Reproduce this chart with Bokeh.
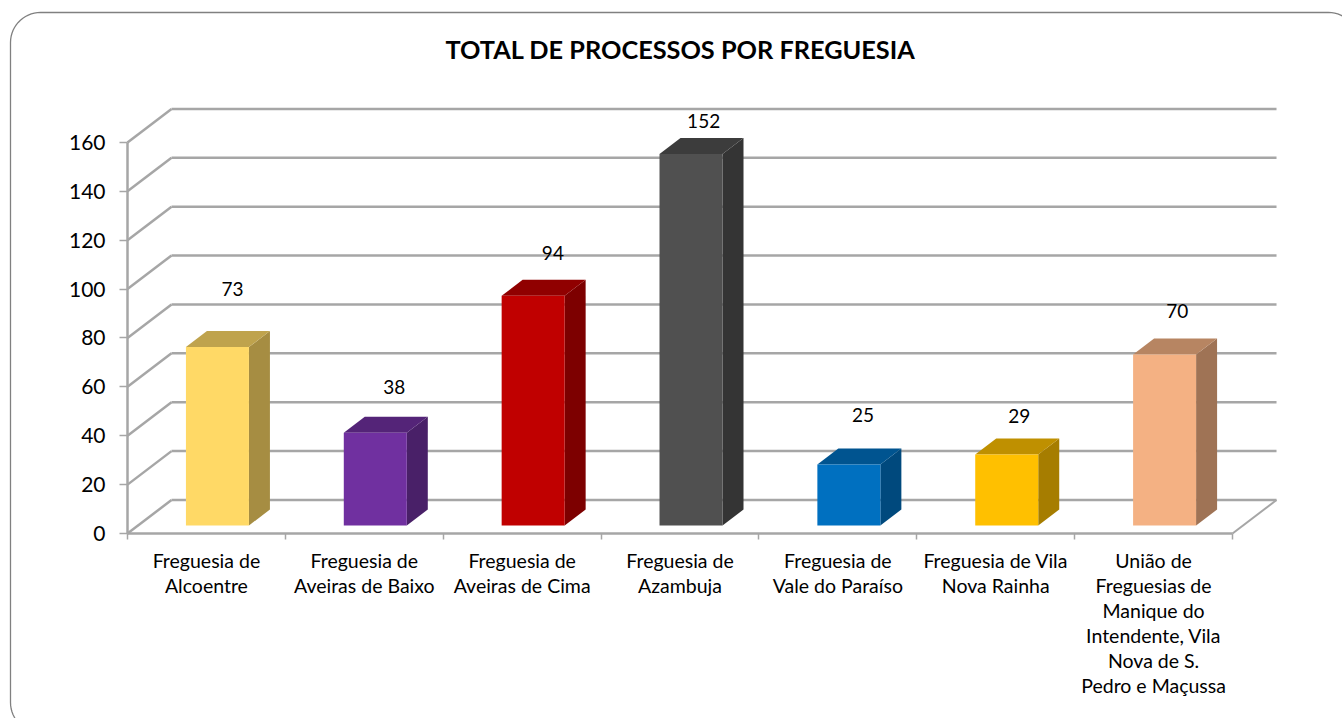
import numpy as np
from bokeh.plotting import figure
from bokeh.models import ColumnDataSource, FixedTicker, Label
from bokeh.core.properties import value
from bokeh.embed import file_html
from bokeh.resources import INLINE

FONT = "Lato"
title_text = "TOTAL DE PROCESSOS POR FREGUESIA"
categories = [
    "Freguesia de\nAlcoentre",
    "Freguesia de\nAveiras de Baixo",
    "Freguesia de\nAveiras de Cima",
    "Freguesia de\nAzambuja",
    "Freguesia de\nVale do Paraíso",
    "Freguesia de Vila\nNova Rainha",
    "União de\nFreguesias de\nManique do\nIntendente, Vila\nNova de S.\nPedro e Maçussa",
]
totals = [73, 38, 94, 152, 25, 29, 70]
y_ticks = [0, 20, 40, 60, 80, 100, 120, 140, 160]
front_colors = ["#FFD966", "#7030A0", "#C00000", "#505050", "#0070C0", "#FFC000", "#F4B183"]
top_colors = ["#BFA34D", "#542478", "#900000", "#3C3C3C", "#005490", "#BF9000", "#B78562"]
side_colors = ["#A68D42", "#492068", "#7D0000", "#343434", "#00497D", "#A67D00", "#9F7355"]
# hand-placed label heights, in value units
label_heights = [100.2, 59.9, 114.7, 168.6, 48.4, 48.0, 91.0]
label_shift = [0.095, 0.12, 0.125, 0.08, 0.09, 0.08, 0.08]

# pixel geometry of the chart box
PX_X = 157.86
PX_Y = 2.444
W, H = 1342, 718
ORIGIN_X, ORIGIN_Y = 127, 533

def dx(px):
    return (px - ORIGIN_X) / PX_X

def dy(px):
    return (ORIGIN_Y - px) / PX_Y

wall_dx, wall_dy = 44 / PX_X, 33.5 / PX_Y
base_dx, base_dy = 11 / PX_X, 8 / PX_Y
depth_dx, depth_dy = 21 / PX_X, 16 / PX_Y
half_w = 31.5 / PX_X

p = figure(
    width=W, height=H, output_backend="svg", toolbar_location=None,
    x_range=(dx(0), dx(W)), y_range=(dy(H), dy(0)),
    min_border_left=0, min_border_bottom=0, min_border_top=0, min_border_right=0,
    outline_line_color=None, background_fill_color="white", border_fill_color="white",
)
p.xgrid.visible = False
p.ygrid.visible = False

# rounded outer frame, running off the right and bottom of the page
L, R, T, B, RAD = 10, 1358, 12, 732, 30
t = np.linspace(0, np.pi / 2, 16)
frame_x = np.concatenate([R - RAD + RAD * np.sin(t), R - RAD + RAD * np.cos(t), L + RAD - RAD * np.sin(t),
                          L + RAD - RAD * np.cos(t), [R - RAD]])
frame_y = np.concatenate([T + RAD - RAD * np.cos(t), B - RAD + RAD * np.sin(t), B - RAD + RAD * np.cos(t),
                          T + RAD - RAD * np.sin(t), [T]])
p.line(x=dx(frame_x), y=dy(frame_y), line_color="#808080", line_width=1.3)

p.add_layout(Label(x=dx(680), y=dy(48), text=title_text, text_align="center",
                   text_baseline="middle", text_font=FONT, text_font_size="25.3px", text_font_style="bold",
                   text_color="black"))

GRID = "#A6A6A6"
n = len(categories)
p.segment(x0=[wall_dx] * len(y_ticks), x1=[n + wall_dx] * len(y_ticks),
          y0=[v + wall_dy for v in y_ticks], y1=[v + wall_dy for v in y_ticks],
          line_color=GRID, line_width=2.5)
p.segment(x0=[0] * len(y_ticks), x1=[wall_dx] * len(y_ticks),
          y0=y_ticks, y1=[v + wall_dy for v in y_ticks], line_color=GRID, line_width=2.5)
p.segment(x0=[n], x1=[n + wall_dx], y0=[0], y1=[wall_dy], line_color=GRID, line_width=2)

centers = [i + 0.5 + base_dx for i in range(n)]
x0 = [c - half_w for c in centers]
x1 = [c + half_w for c in centers]
tops = [v + base_dy for v in totals]

p.patches(
    xs=[[b, b + depth_dx, b + depth_dx, b] for b in x1],
    ys=[[base_dy, base_dy + depth_dy, t_ + depth_dy, t_] for t_ in tops],
    fill_color=side_colors, line_color=None)
p.patches(
    xs=[[a, b, b + depth_dx, a + depth_dx] for a, b in zip(x0, x1)],
    ys=[[t_, t_, t_ + depth_dy, t_ + depth_dy] for t_ in tops],
    fill_color=top_colors, line_color=None)
p.quad(left=x0, right=x1, bottom=[base_dy] * n, top=tops, fill_color=front_colors, line_color=None)

labels = ColumnDataSource(dict(
    x=[c + s for c, s in zip(centers, label_shift)],
    y=label_heights,
    text=[str(v) for v in totals],
))
p.text(x="x", y="y", text="text", source=labels, text_align="center", text_baseline="middle",
       text_font=value(FONT), text_font_size="19px", text_color="black")

ya = p.yaxis[0]
ya.fixed_location = 0
ya.ticker = FixedTicker(ticks=y_ticks)
ya.bounds = (0, 160)
ya.axis_line_color = GRID
ya.axis_line_width = 2.5
ya.major_tick_line_color = GRID
ya.major_tick_line_width = 1.5
ya.major_tick_out = 8
ya.major_tick_in = 0
ya.minor_tick_out = 0
ya.minor_tick_in = 0
ya.major_label_standoff = 14
ya.major_label_text_font = FONT
ya.major_label_text_font_size = "21px"
ya.major_label_text_color = "black"

xa = p.xaxis[0]
xa.fixed_location = 0
xa.ticker = FixedTicker(ticks=[i + 0.5 for i in range(n)], minor_ticks=list(range(n + 1)))
xa.bounds = (0, n)
xa.major_label_overrides = {i + 0.5: c for i, c in enumerate(categories)}
xa.axis_line_color = GRID
xa.axis_line_width = 2.5
xa.major_tick_out = 0
xa.major_tick_in = 0
xa.minor_tick_out = 6
xa.minor_tick_in = 0
xa.minor_tick_line_color = GRID
xa.minor_tick_line_width = 1.5
xa.major_label_standoff = 9
xa.major_label_orientation = "horizontal"
xa.major_label_text_font = FONT
xa.major_label_text_font_size = "19.5px"
xa.major_label_text_color = "black"
xa.major_label_text_line_height = 1.09

open("out.html", "w").write(file_html(p, INLINE))
